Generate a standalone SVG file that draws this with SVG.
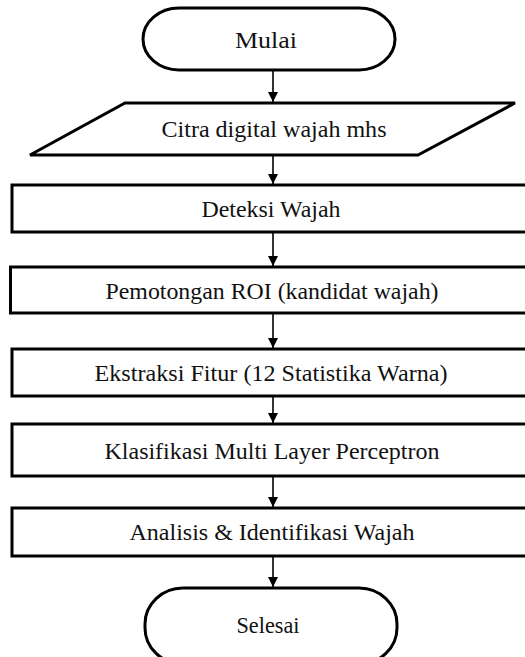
<svg xmlns="http://www.w3.org/2000/svg" width="525" height="657" viewBox="0 0 525 657">
<style>
.shape{fill:#fff;stroke:#000;stroke-width:3}
.lbl{font-family:'Liberation Serif','Times New Roman',serif;font-size:24px;fill:#111;text-anchor:middle}
.conn{stroke:#000;stroke-width:1.6;fill:none;marker-end:url(#ah)}
</style>
<defs>
<marker id="ah" viewBox="0 0 10 10" refX="10" refY="5" markerWidth="10" markerHeight="10" markerUnits="userSpaceOnUse" orient="auto">
<path d="M0,0 L10,5 L0,10 z" fill="#000"/>
</marker>
</defs>
<rect width="525" height="657" fill="#fff"/>
<g id="connectors">
<line class="conn" x1="273" y1="70" x2="273" y2="102"/>
<line class="conn" x1="273" y1="155" x2="273" y2="184"/>
<line class="conn" x1="273" y1="232" x2="273" y2="266"/>
<line class="conn" x1="273" y1="313" x2="273" y2="348"/>
<line class="conn" x1="273" y1="396" x2="273" y2="423"/>
<line class="conn" x1="273" y1="476" x2="273" y2="507"/>
<line class="conn" x1="273" y1="556" x2="273" y2="587"/>
</g>
<g id="mulai">
<rect class="shape" x="143" y="8" width="252" height="62" rx="36" ry="31"/>
<text class="lbl" x="266" y="48" textLength="62" lengthAdjust="spacingAndGlyphs" font-family="Liberation Serif">Mulai</text>
</g>
<g id="citra">
<polygon class="shape" points="125,103 515,103 418,155 30,155"/>
<text class="lbl" x="274" y="137" textLength="225" lengthAdjust="spacingAndGlyphs" font-family="Liberation Serif">Citra digital  wajah mhs</text>
</g>
<g id="deteksi">
<rect class="shape" x="12" y="185" width="530" height="47"/>
<text class="lbl" x="271" y="217" textLength="139" lengthAdjust="spacingAndGlyphs" font-family="Liberation Serif">Deteksi Wajah</text>
</g>
<g id="pemotongan">
<rect class="shape" x="10.5" y="267" width="530" height="46"/>
<text class="lbl" x="272" y="299" textLength="333" lengthAdjust="spacingAndGlyphs" font-family="Liberation Serif">Pemotongan ROI (kandidat wajah)</text>
</g>
<g id="ekstraksi">
<rect class="shape" x="12" y="349" width="530" height="47"/>
<text class="lbl" x="271" y="381" textLength="353" lengthAdjust="spacingAndGlyphs" font-family="Liberation Serif">Ekstraksi Fitur (12 Statistika Warna)</text>
</g>
<g id="klasifikasi">
<rect class="shape" x="12" y="424" width="530" height="52"/>
<text class="lbl" x="272" y="459" textLength="335" lengthAdjust="spacingAndGlyphs" font-family="Liberation Serif">Klasifikasi Multi Layer Perceptron</text>
</g>
<g id="analisis">
<rect class="shape" x="12" y="508" width="530" height="48"/>
<text class="lbl" x="272" y="540" textLength="285" lengthAdjust="spacingAndGlyphs" font-family="Liberation Serif">Analisis &amp; Identifikasi Wajah</text>
</g>
<g id="selesai">
<rect class="shape" x="145" y="588" width="252" height="76" rx="38" ry="36"/>
<text class="lbl" x="268" y="633" textLength="63" lengthAdjust="spacingAndGlyphs" font-family="Liberation Serif">Selesai</text>
</g>
</svg>
